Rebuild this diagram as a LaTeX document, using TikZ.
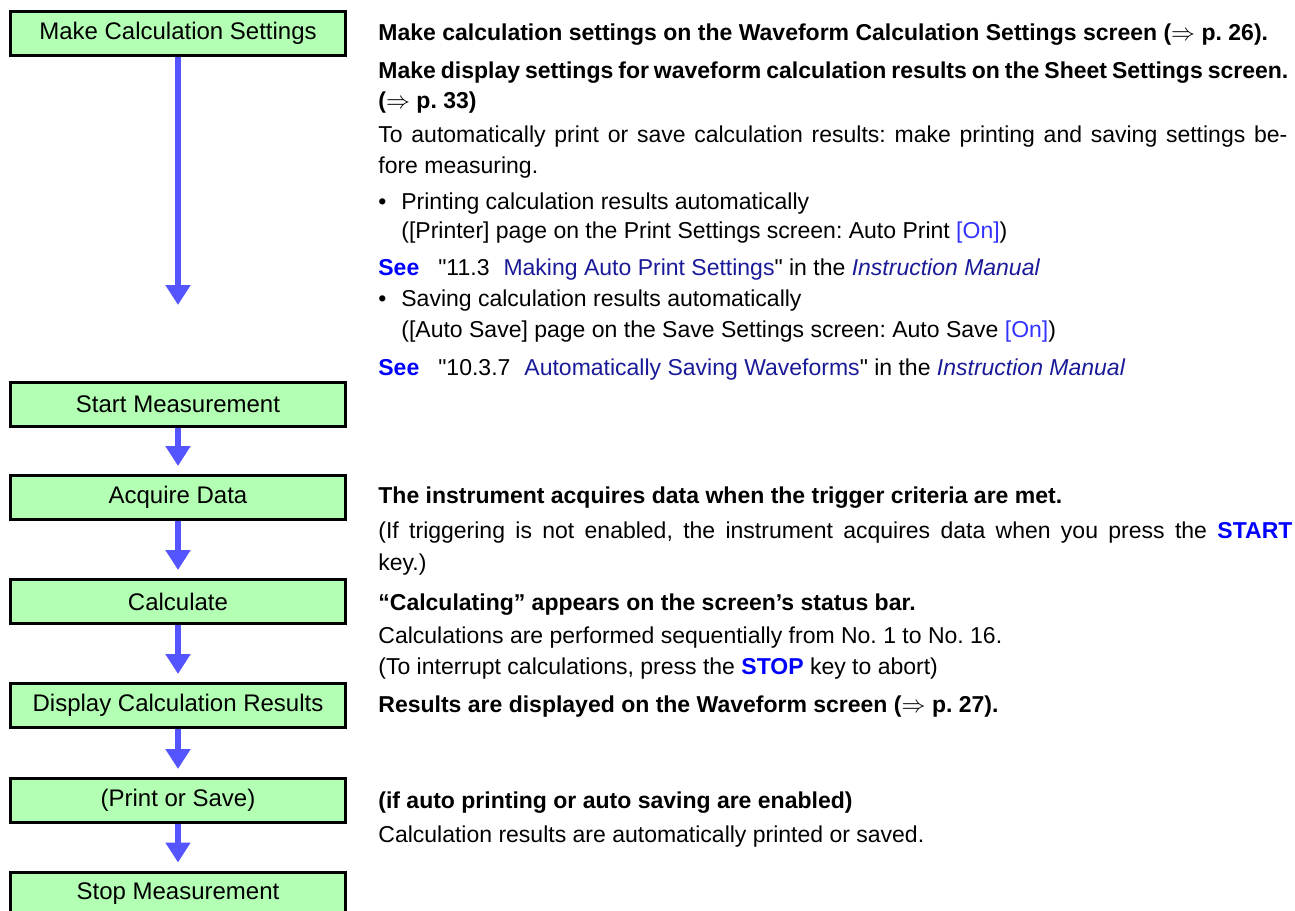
\documentclass[tikz,border=0pt]{standalone}
\usepackage{fontspec}
\setmainfont{Liberation Sans}
\usepackage{xcolor}
\usepackage{tikz}
\usetikzlibrary{arrows.meta}
\frenchspacing
\definecolor{boxgreen}{HTML}{B3FFB3}
\definecolor{flowblue}{HTML}{5555FF}
\definecolor{keyblue}{HTML}{0000FF}
\definecolor{refblue}{HTML}{1A1A99}
\definecolor{onblue}{HTML}{3333FF}
\tikzset{
  stepbox/.style={draw, line width=1.5pt, fill=boxgreen, minimum width=167.5pt, minimum height=22pt, inner sep=0pt, font=\fontsize{12}{14}\selectfont},
  flow/.style={-{Triangle[length=10pt,width=12pt]}, line width=3pt, draw=flowblue, shorten >=4pt},
  txt/.style={anchor=base west, inner sep=0pt, font=\fontsize{11.5}{14}\selectfont},
  hd/.style={txt, font=\fontsize{11.5}{14}\selectfont\bfseries},
}
\newcommand{\keyname}[1]{{\bfseries\color{keyblue}#1}}
\newcommand{\seeref}[2]{{\bfseries\color{keyblue}See}\hspace{9.5pt}\textquotedbl#1\hspace{7pt}{\color{refblue}#2}\textquotedbl{} in the {\itshape\color{refblue}Instruction Manual}}

\begin{document}
\begin{tikzpicture}[x=0.5pt, y=-0.5pt]
\useasboundingbox (0,0) rectangle (1295,910);
\clip (0,0) rectangle (1295,910);
% steps
\foreach \n/\y/\t in {setup/33.5/Make Calculation Settings, startm/404/Start Measurement, acq/497.5/Acquire Data, calc/601.5/Calculate, disp/705.5/Display Calculation Results, prnt/800.5/(Print or Save), stopm/894/Stop Measurement}{\node[stepbox] (\n) at (178,\y) {\t};}
\coordinate (setend) at (178,305);
\draw[flow, shorten >=0pt] (setup) -- (setend);
\foreach \a/\b in {startm/acq, acq/calc, calc/disp, disp/prnt, prnt/stopm}{\draw[flow] (\a) -- (\b);}
% notes beside the steps
\foreach \n/\y/\t in {h1/40/{Make calculation settings on the Waveform Calculation Settings screen ($\Rightarrow$ p. 26).},
  h2/78/{\makebox[455pt][s]{Make display settings for waveform calculation results on the Sheet Settings screen.}},
  h3/108/{($\Rightarrow$ p. 33)},
  h4/503/{The instrument acquires data when the trigger criteria are met.},
  h5/610/{“Calculating” appears on the screen’s status bar.},
  h6/712/{Results are displayed on the Waveform screen ($\Rightarrow$ p. 27).},
  h7/808/{(if auto printing or auto saving are enabled)}}{\node[hd] (\n) at (378,\y) {\t};}
\foreach \n/\y/\t in {p1/142/{\makebox[454.5pt][s]{To automatically print or save calculation results: make printing and saving settings be-}},
  p2/173/{fore measuring.},
  p3/570/{key.)},
  p4/643/{Calculations are performed sequentially from No. 1 to No. 16.},
  p5/842/{Calculation results are automatically printed or saved.}}{\node[txt] (\n) at (378,\y) {\t};}
\node[txt] (b1) at (378,209) {\makebox[11.5pt][l]{•}Printing calculation results automatically};
\node[txt] (b1a) at (401,238) {([Printer] page on the Print Settings screen: Auto Print {\color{onblue}[On]})};
\node[txt] (see1) at (378,275) {\seeref{11.3}{Making Auto Print Settings}};
\node[txt] (b2) at (378,306) {\makebox[11.5pt][l]{•}Saving calculation results automatically};
\node[txt] (b2a) at (401,337) {([Auto Save] page on the Save Settings screen: Auto Save {\color{onblue}[On]})};
\node[txt] (see2) at (378,375) {\seeref{10.3.7}{Automatically Saving Waveforms}};
\node[txt] (p6) at (378,538) {\makebox[457pt][s]{(If triggering is not enabled, the instrument acquires data when you press the \keyname{START}}};
\node[txt] (p7) at (378,674) {(To interrupt calculations, press the \keyname{STOP} key to abort)};
\end{tikzpicture}
\end{document}
